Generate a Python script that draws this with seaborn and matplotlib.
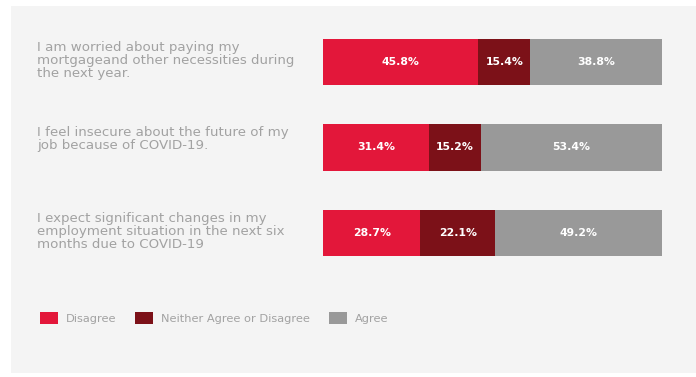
import matplotlib
matplotlib.use("Agg")
import matplotlib.pyplot as plt
import matplotlib.transforms as mtransforms
from matplotlib.patches import Patch, Rectangle
import numpy as np
import pandas as pd
import seaborn as sns

# Survey statements and response shares (%)
statements = [
    "I am worried about paying my\nmortgageand other necessities during\nthe next year.",
    "I feel insecure about the future of my\njob because of COVID-19.",
    "I expect significant changes in my\nemployment situation in the next six\nmonths due to COVID-19",
]
disagree = [45.8, 31.4, 28.7]
neither = [15.4, 15.2, 22.1]
agree = [38.8, 53.4, 49.2]
responses = ["Disagree", "Neither Agree or Disagree", "Agree"]
colors = ["#e3173a", "#7c1118", "#999999"]

sns.set_theme(style="white")
plt.rcParams["font.family"] = ["DejaVu Sans"]

W, H = 696, 377
fig = plt.figure(figsize=(W / 100, H / 100), dpi=100)
fig.patch.set_facecolor("white")
# light panel behind the chart
fig.patches.append(Rectangle((11 / W, 1 - 373 / H), 1 - 11 / W, (373 - 6) / H,
                             transform=fig.transFigure, facecolor="#f4f4f4",
                             edgecolor="none", zorder=-10))

ax_l, ax_r = 323 / W, 662 / W
ax_top, ax_bot = 20 / H, 275 / H
ax = fig.add_axes([ax_l, 1 - ax_bot, ax_r - ax_l, ax_bot - ax_top])
ax.patch.set_alpha(0)

df = pd.DataFrame({"statement": statements, "Disagree": disagree,
                   "Neither": neither, "Agree": agree})
df["c1"] = df["Disagree"]
df["c2"] = df["Disagree"] + df["Neither"]
df["c3"] = df["c2"] + df["Agree"]

bar_w = 0.54
# stacked horizontal bars: draw cumulative totals back to front
for col, color in zip(["c3", "c2", "c1"], colors[::-1]):
    sns.barplot(data=df, x=col, y="statement", orient="h", color=color,
                width=bar_w, saturation=1, ax=ax, edgecolor="none")

ax.set_xlim(0, 100)
ax.set_ylim(2.49, -0.49)
ax.set_xlabel("")
ax.set_ylabel("")
ax.set_xticks([])
ax.set_yticks([])
sns.despine(ax=ax, left=True, bottom=True)

# value labels centred in each segment
for i, row in df.iterrows():
    starts = [0, row["c1"], row["c2"]]
    vals = [row["Disagree"], row["Neither"], row["Agree"]]
    for s, v in zip(starts, vals):
        ax.text(s + v / 2, i, f"{v:.1f}%", ha="center", va="center",
                color="white", fontsize=7.8, fontweight="bold")

# statement text, top-aligned with each bar
trans = mtransforms.blended_transform_factory(fig.transFigure, ax.transData)
for i, s in enumerate(statements):
    ax.text(37 / W, i - bar_w / 2 + 0.02, s, transform=trans, ha="left", va="top",
            fontsize=9.6, color="#a2a2a2", linespacing=1.03)

handles = [Patch(facecolor=c, edgecolor="none", label=r) for c, r in zip(colors, responses)]
fig.legend(handles=handles, loc="center left", bbox_to_anchor=(40 / W, 1 - 318 / H),
           ncol=3, frameon=False, fontsize=8.2, labelcolor="#a2a2a2",
           handlelength=1.57, handleheight=1.3, handletextpad=0.7,
           columnspacing=1.65, borderaxespad=0, borderpad=0)

fig.savefig("out.png", dpi=100, facecolor=fig.get_facecolor())
